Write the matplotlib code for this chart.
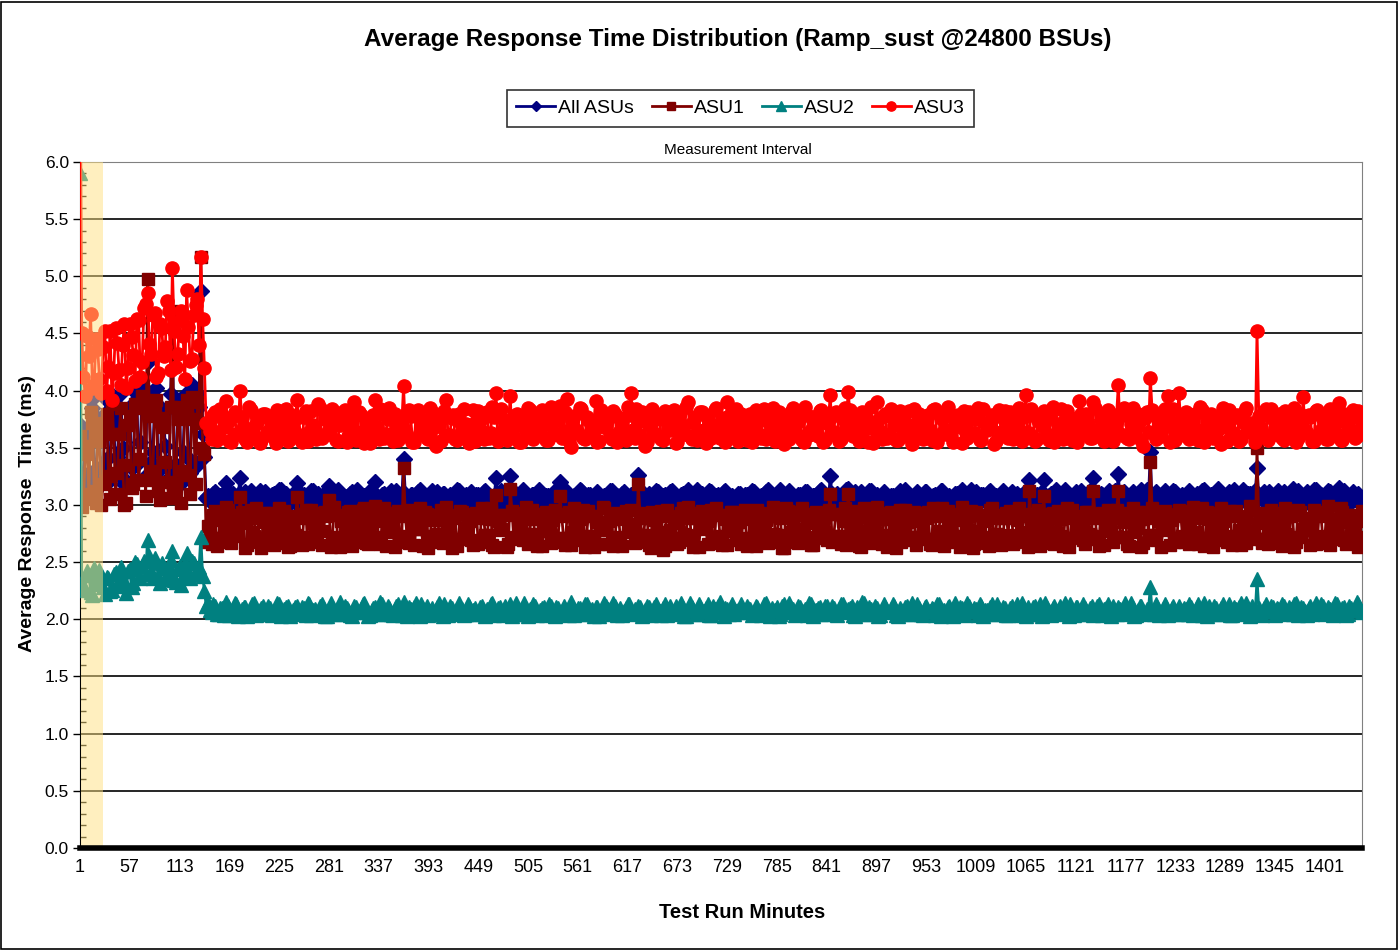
import numpy as np
import matplotlib
matplotlib.use('Agg')
import matplotlib.pyplot as plt
import matplotlib as mpl
from matplotlib.patches import Rectangle
from matplotlib.ticker import MultipleLocator

mpl.rcParams['font.family'] = ['Liberation Sans', 'DejaVu Sans']

# response times in hundredths of a ms
# *_m1: readings at minutes 1, 5, 9, ...   *_m3: readings at minutes 3, 7, 11, ...
all_asus_m1 = """
370 322 361 392 330 375 318 380 341 396 328 371 350 321 386 336 393 355
398 425 338 388 330 384 352 324 455 335 392 346 398 328 383 397 487 342
308 302 311 304 309 319 301 310 305 324 307 300 312 303 308 299 311 305 309 301 313 304 310 302 307
319 303 309 300 312 305 310 301 308 317 304 311 299 307 302 310 305 313 300 308 303 311 320 304 309
301 310 305 312 302 340 304 309 300 311 306 308 298 312 303 307 310 301 309 304 313 300 308 305 311
302 309 304 312 300 307 324 303 310 305 325 301 308 304 311 299 309 306 313 302 308 303 310 305 320
304 311 300 308 305 312 301 309 303 310 298 307 304 312 302 308 305 311 300 309 303 326 306 301 310
304 312 300 308 303 311 305 298 309 302 313 304 307 300 310 305 312 301 308 303 311 299 306 304 310
302 309 305 312 300 307 303 311 298 308 304 313 301 306 310 302 309 299 311 305 308 300 312 303 307
325 304 310 301 308 314 303 311 299 307 305 312 300 309 303 311 298 308 304 310 301 313 305 307 300
309 303 311 300 308 305 312 299 307 304 310 301 313 303 308 300 311 305 309 302 312 304 307 299 310
303 311 305 308 300 312 322 304 309 301 322 305 310 302 308 304 313 300 307 311 303 309 305 312 324
304 310 301 308 305 312 327 303 309 300 311 306 308 302 313 346 305 310 301 312 307 303 311 305 309
302 312 306 310 301 313 305 309 303 314 307 300 311 305 308 302 313 306 310 304 332 306 311 303 309
305 312 302 310 306 314 303 309 307 311 301 313 305 309 304 312 302 310 315 306 309 303 311 307 305
"""
all_asus_m3 = """
318 360 328 385 320 370 335 392 322 378 342 398 318 383 332 399 338 404
325 390 346 402 321 381 337 397 329 388 319 394 341 405 334 386 362 306
305 310 300 308 303 312 306 301 309 304 311 299 307 305 312 302 308 300 310 304 313 306 301 309 303
311 304 308 300 312 306 303 310 301 308 305 313 299 307 304 311 302 309 306 300 312 305 308 303 310
304 312 301 307 305 310 300 309 303 313 306 302 308 304 311 299 310 305 307 301 312 303 309 306 300
309 303 311 305 300 308 304 312 302 307 306 310 299 313 305 301 309 304 311 303 308 300 312 306 302
310 301 307 304 313 306 300 309 303 311 305 308 302 312 304 299 310 307 301 309 305 313 303 308 300
307 311 303 309 300 312 305 302 310 306 308 301 313 304 307 300 311 305 309 303 312 299 308 304 310
303 309 306 311 301 308 304 313 300 307 305 310 302 312 306 299 309 303 311 304 308 301 313 305 307
310 302 308 305 313 300 309 304 311 306 301 312 303 307 305 310 299 308 304 312 302 309 306 300 311
304 311 306 300 309 303 312 305 308 301 310 304 307 299 313 306 302 309 305 311 300 308 303 312 306
308 301 310 306 303 312 305 309 300 311 304 308 302 313 306 300 310 305 309 303 312 301 307 304 311
302 309 305 312 300 308 304 311 306 301 310 303 313 305 308 299 311 306 302 309 304 312 300 307 305
310 304 308 301 312 306 303 309 305 311 300 308 304 313 302 307 305 310 301 312 306 309 303 311 304
308 302 311 305 309 300 312 306 304 310 303 313 305 308 301 311 304 309 306 312 300 307 305 310 303
"""

asu1_m1 = """
360 305 352 381 312 366 300 372 325 388 310 362 335 302 378 318 385 340
392 498 322 381 312 376 338 306 470 318 386 330 392 310 375 390 517 345
282 266 295 271 288 298 268 291 276 307 284 265 296 273 289 262 293 278 286 267 297 274 290 264 285
307 270 292 266 296 279 288 265 294 304 272 291 263 287 276 295 268 289 274 297 266 290 299 271 286
264 293 277 290 268 332 273 296 265 288 279 294 262 291 275 287 267 298 272 289 264 295 280 286 269
292 266 297 274 288 265 309 278 291 263 314 270 293 276 289 266 296 272 290 264 294 279 287 268 308
271 292 265 297 277 288 263 295 273 290 266 298 280 286 264 293 270 291 276 296 267 318 274 289 265
294 272 290 261 296 278 287 266 293 275 298 269 289 263 295 280 286 267 297 273 291 265 294 277 288
266 296 271 290 264 293 279 287 268 298 274 289 262 295 276 291 267 297 272 288 265 294 280 286 269
310 273 292 266 297 310 270 289 264 295 277 291 267 298 274 288 263 294 279 290 268 296 272 287 265
293 276 289 266 297 271 291 264 295 280 287 268 298 273 290 262 294 277 288 267 296 272 291 265 289
274 293 268 297 276 290 312 271 288 264 308 279 292 266 295 273 289 263 296 278 287 269 294 275 312
270 291 265 296 277 289 312 272 293 264 297 280 288 267 294 338 274 290 263 295 279 287 268 296 273
291 266 298 276 289 264 294 281 287 269 297 272 290 265 295 278 288 267 299 274 350 270 293 266 296
277 289 264 297 272 291 268 294 279 288 265 296 273 290 267 299 276 287 270 294 266 291 275 286 272
"""
asu1_m3 = """
298 345 310 372 302 356 318 380 305 362 328 385 300 370 315 388 322 395
308 378 330 392 304 368 320 386 312 375 302 382 326 394 318 372 350 268
270 291 264 287 278 296 267 283 273 294 262 289 276 297 268 285 271 293 265 288 279 295 263 290 274
289 265 296 272 284 268 293 277 290 263 298 270 286 275 294 264 288 279 296 267 283 272 291 266 297
276 288 263 295 271 290 267 284 279 297 264 292 273 287 268 296 275 283 262 291 270 294 277 286 265
293 268 289 274 297 263 286 279 291 266 295 272 284 269 298 275 288 264 292 277 285 267 296 271 290
265 294 276 287 269 296 273 290 263 285 278 297 266 291 272 288 264 295 279 283 268 293 274 289 262
287 276 295 264 290 271 284 268 297 274 289 263 293 279 286 266 296 272 291 265 288 277 294 269 285
291 264 288 277 296 270 285 267 293 275 290 262 297 273 287 268 294 279 284 265 292 271 289 276 296
268 292 273 286 265 295 278 289 263 297 271 284 276 293 266 290 274 288 262 296 279 285 269 294 272
286 270 294 265 290 277 297 268 284 273 292 263 288 279 295 266 291 272 286 264 297 275 289 269 293
295 266 287 274 292 263 289 278 296 270 285 267 293 276 288 264 297 271 290 279 284 266 294 273 289
264 293 279 288 268 296 272 285 266 291 276 294 263 289 274 297 269 286 278 292 265 290 271 295 268
284 274 291 266 297 271 288 263 293 278 286 268 295 273 290 265 289 277 296 270 284 267 292 276 288
293 267 286 275 290 263 296 272 289 279 284 266 294 271 292 265 288 278 297 269 285 274 291 263 295
"""

asu2_m1 = """
590 228 242 224 245 231 238 222 236 226 241 229 235 223 244 232 248 236
251 269 242 254 238 249 235 246 260 233 247 238 258 236 249 244 272 225
214 206 212 205 210 215 204 209 213 206 211 203 208 214 205 210 207 212 204 209 213 206 211 203 208
212 205 210 214 204 209 206 213 203 208 211 205 215 207 210 204 212 206 209 214 203 208 211 205 213
207 210 204 212 206 215 203 209 211 205 213 208 204 210 206 214 203 209 212 205 208 211 204 213 207
210 205 212 203 209 214 206 211 204 208 213 205 210 207 214 203 209 212 206 210 204 213 207 211 205
212 208 215 204 210 206 213 205 209 211 203 208 212 206 214 204 210 207 213 205 209 212 203 208 211
205 213 207 210 204 212 206 209 214 203 208 211 205 213 207 210 204 212 206 215 203 209 211 205 208
213 206 210 204 212 207 209 214 203 208 211 205 213 206 210 204 212 207 209 214 203 208 211 205 212
206 210 204 213 207 209 212 203 208 215 205 211 206 210 204 213 207 209 212 203 208 211 205 214 206
210 204 212 207 209 213 203 208 211 205 214 206 210 204 212 207 209 213 203 208 211 205 213 206 210
204 212 207 209 214 203 208 211 205 213 206 210 204 212 207 209 214 203 208 211 205 213 206 210 204
212 207 209 213 203 208 211 205 214 206 210 204 212 207 209 228 205 211 206 213 204 210 207 212 205
209 213 204 211 206 214 203 208 212 205 210 207 213 204 209 211 206 214 203 208 235 205 210 207 212
204 209 213 206 211 205 214 207 210 204 212 206 209 213 205 211 207 214 206 210 204 212 208 215 209
"""
asu2_m3 = """
232 226 239 221 234 243 228 237 225 240 230 246 233 242 228 250 237 247
240 255 236 250 232 245 239 252 234 244 230 249 237 251 240 246 238 212
208 213 205 210 204 212 207 214 203 209 211 206 213 204 208 212 205 210 207 214 203 209 212 206 211
206 211 204 213 208 205 212 209 203 214 207 210 205 212 208 203 211 206 213 209 204 210 207 215 205
212 205 209 213 204 208 211 206 214 203 209 212 207 205 211 208 213 204 210 206 214 209 205 212 208
205 211 207 209 213 204 210 206 212 208 203 214 207 211 205 209 213 204 208 211 206 212 203 210 207
209 204 212 207 210 205 213 208 203 211 206 214 209 205 212 207 204 210 213 206 208 211 205 212 204
211 207 204 213 209 205 212 206 210 203 214 208 205 211 207 213 204 209 212 206 210 205 213 207 209
206 212 209 205 211 204 213 207 210 208 203 212 206 214 209 205 211 207 204 213 208 210 205 212 207
212 205 209 213 206 210 204 211 207 214 205 209 212 203 208 211 206 213 204 210 207 212 205 209 213
205 211 207 210 204 213 208 206 212 203 209 211 205 214 207 210 204 212 208 206 213 205 209 211 204
210 206 213 204 209 211 205 212 208 203 214 207 210 206 212 205 209 213 204 211 207 210 205 212 208
213 204 210 207 212 205 209 211 206 214 203 208 212 205 210 207 213 204 209 211 206 212 205 208 210
205 211 207 213 204 209 212 206 210 205 213 208 204 211 207 214 205 209 212 206 210 204 213 207 211
210 206 212 205 209 213 204 211 207 210 205 214 208 212 206 209 204 213 207 211 205 210 208 213 206
"""

asu3_m1 = """
750 412 448 467 405 436 398 452 421 392 455 418 440 402 458 431 463 412
472 485 432 468 415 455 438 470 507 421 462 448 488 426 466 480 517 420
372 358 381 364 376 391 356 378 362 400 368 355 383 361 374 357 380 365 371 354 379 363 384 358 373
392 360 377 356 382 366 388 359 375 362 384 357 370 381 355 368 390 363 379 354 374 366 392 358 380
362 385 356 372 364 404 360 378 355 383 367 374 358 381 352 369 376 392 361 379 357 373 384 363 370
356 382 365 377 359 386 398 362 375 357 395 368 380 355 372 385 360 376 364 383 357 371 379 362 387
365 393 351 378 363 384 358 374 367 391 356 380 369 361 382 355 376 364 386 398 359 373 381 352 370
384 361 375 357 379 366 383 355 371 362 390 358 377 365 381 354 373 368 385 359 376 390 363 372 356
380 367 374 355 383 362 378 358 371 385 360 376 353 369 381 364 373 357 386 361 377 366 382 355 372
396 364 379 358 385 399 362 375 356 381 367 373 354 390 365 378 359 384 370 357 376 363 382 353 371
380 358 374 366 383 355 377 362 386 360 372 379 354 368 381 363 375 357 384 366 371 353 378 364 382
359 374 367 385 356 396 363 379 358 373 382 361 376 355 370 384 362 377 357 372 391 365 380 359 390
366 378 356 383 364 372 405 361 379 358 385 367 374 352 381 411 363 377 360 384 395 369 357 398 365
381 358 374 366 386 355 372 380 362 376 353 369 383 361 378 356 373 385 364 371 452 367 379 357 384
362 376 359 382 368 374 355 380 394 363 377 356 383 366 372 358 381 364 389 357 375 367 383 360 378
"""
asu3_m3 = """
450 395 430 402 445 410 438 400 452 415 442 405 458 420 447 408 462 425
476 441 466 412 458 430 478 418 452 432 470 410 456 428 475 440 463 372
365 379 357 384 368 373 355 381 362 377 358 386 366 371 354 380 363 376 359 383 367 372 356 379 364
377 355 382 364 370 358 385 361 374 367 380 356 373 383 360 376 357 381 365 372 354 379 368 384 359
375 362 380 357 371 366 383 355 378 363 374 359 385 368 372 356 382 361 376 358 380 365 371 354 383
367 374 358 381 363 377 356 384 369 372 361 379 355 376 366 383 358 371 364 380 357 386 362 374 359
381 356 373 366 385 359 377 362 371 355 383 368 375 358 380 364 372 357 379 366 384 361 376 355 378
363 377 358 382 367 371 354 379 364 386 360 373 357 381 366 375 359 383 362 370 355 378 367 384 361
374 357 380 365 372 359 384 362 376 356 381 368 371 358 385 363 377 355 379 366 373 360 383 357 376
362 381 356 375 368 383 360 372 364 379 355 386 366 374 358 380 362 377 357 382 365 371 359 384 363
371 364 379 357 384 361 375 366 380 355 373 368 382 359 376 363 385 357 372 367 379 356 383 362 374
381 358 372 365 377 360 384 356 374 369 379 357 386 363 371 358 382 366 375 355 380 364 373 359 385
360 374 367 381 356 378 362 385 359 371 366 380 357 376 364 383 358 372 367 379 355 384 362 376 361
373 365 380 357 383 362 376 359 371 367 385 356 374 363 379 358 382 366 372 355 378 361 384 360 375
369 380 357 374 363 385 359 371 366 379 356 382 362 377 358 384 365 373 357 380 363 376 359 382 370
"""

x_ticks = list(range(1, 1402, 56))
y_ticks = np.arange(0, 6.01, 0.5)
shade_minutes = (2, 27)


def readings(first, second):
    # merge the two reading sets into one series, minute 1, 3, 5, ...
    a = np.array(first.split(), dtype=float) / 100
    b = np.array(second.split(), dtype=float) / 100
    n = min(len(a), len(b))
    return np.column_stack([a[:n], b[:n]]).ravel()


series = [
    (readings(all_asus_m1, all_asus_m3), 'All ASUs', '#000080', 'D', 8),
    (readings(asu1_m1, asu1_m3), 'ASU1', '#800000', 's', 9),
    (readings(asu2_m1, asu2_m3), 'ASU2', '#008080', '^', 9.5),
    (readings(asu3_m1, asu3_m3), 'ASU3', '#FF0000', 'o', 9.5),
]

fig = plt.figure(figsize=(14, 9.5), dpi=100)
ax = fig.add_axes([0.0571, 0.1074, 0.9157, 0.7221])

for vals, name, color, marker, size in series:
    x = 1 + 2 * np.arange(len(vals))
    ax.plot(x, vals, color=color, marker=marker, markersize=size,
            markeredgecolor=color, linewidth=2, label=name, zorder=3)

ax.axvspan(*shade_minutes, color='#FFE080', alpha=0.5, lw=0, zorder=4)

ax.set_xlim(1, 1443)
ax.set_ylim(0, 6)
ax.set_xticks(x_ticks)
ax.set_yticks(y_ticks)
ax.set_yticklabels(['%.1f' % v for v in y_ticks])
ax.yaxis.set_minor_locator(MultipleLocator(0.1))
ax.tick_params(axis='y', which='major', direction='out', length=5, width=1,
               labelsize=12.5, pad=3)
ax.tick_params(axis='y', which='minor', direction='in', length=4, width=1)
ax.tick_params(axis='x', length=0, labelsize=13, pad=8)
ax.yaxis.grid(True, color='black', linewidth=1.2, zorder=1)
ax.set_axisbelow(True)

ax.spines['top'].set_color('#808080')
ax.spines['right'].set_color('#808080')
ax.spines['left'].set_color('black')
ax.spines['bottom'].set_color('black')
ax.spines['bottom'].set_linewidth(4)
ax.spines['bottom'].set_zorder(6)

fig.text(0.527, 0.958, 'Average Response Time Distribution (Ramp_sust @24800 BSUs)',
         ha='center', va='center', fontsize=17.5, fontweight='bold')
fig.text(0.527, 0.842, 'Measurement Interval', ha='center', va='center', fontsize=11)
fig.text(0.530, 0.039, 'Test Run Minutes', ha='center', va='center',
         fontsize=14.5, fontweight='bold')
fig.text(0.020, 0.459, 'Average Response  Time (ms)', ha='center', va='center',
         rotation=90, fontsize=14, fontweight='bold')

leg = fig.legend(loc='center', bbox_to_anchor=(0.529, 0.886), ncol=4,
                 fontsize=14, frameon=True, fancybox=False, edgecolor='black',
                 handlelength=2.0, handletextpad=0.15, columnspacing=0.9,
                 borderpad=0.5, markerscale=0.7)
leg.get_frame().set_linewidth(1.2)

fig.add_artist(Rectangle((0.001, 0.001), 0.997, 0.997, transform=fig.transFigure,
                         fill=False, edgecolor='black', linewidth=1.2))

fig.savefig('out.png', dpi=100)
